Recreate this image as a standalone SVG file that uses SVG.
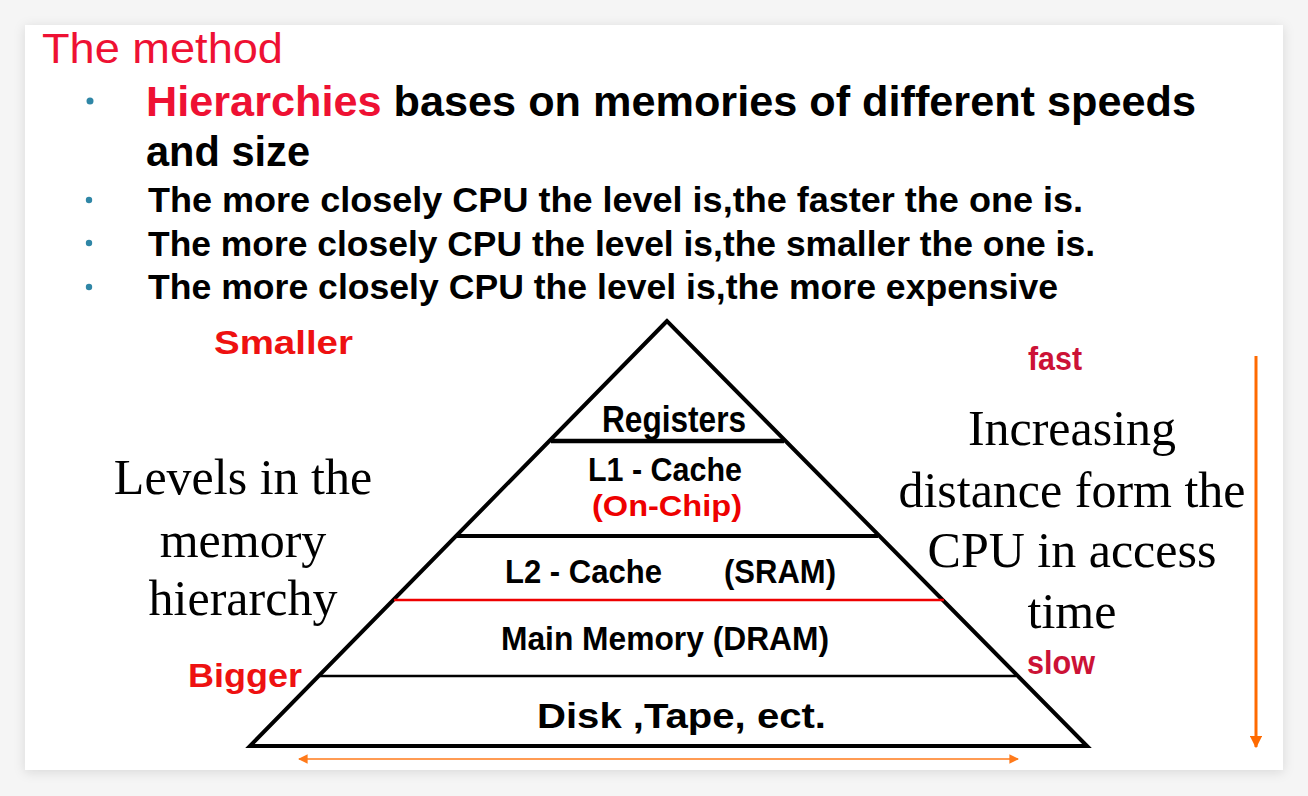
<svg xmlns="http://www.w3.org/2000/svg" width="1308" height="796" viewBox="0 0 1308 796">
  <defs>
    <filter id="shadow" x="-5%" y="-5%" width="110%" height="110%">
      <feDropShadow dx="0" dy="2" stdDeviation="6" flood-color="#000" flood-opacity="0.12"/>
    </filter>
    <marker id="arrOrange" viewBox="0 0 10 10" refX="9" refY="5" markerWidth="4.2" markerHeight="4.2" orient="auto-start-reverse" markerUnits="strokeWidth">
      <path d="M0,0 L10,5 L0,10 z" fill="#ff6a00"/>
    </marker>
    <marker id="arrOrangeThin" viewBox="0 0 10 10" refX="9" refY="5" markerWidth="7" markerHeight="6" orient="auto-start-reverse" markerUnits="strokeWidth">
      <path d="M0,0 L10,5 L0,10 z" fill="#ff7a1a"/>
    </marker>
  </defs>
  <style>
    .hand { font-family: "Comic Sans MS", "Liberation Sans", "DejaVu Sans", sans-serif; font-weight: bold; }
    .title { font-family: "Comic Sans MS", "Liberation Sans", "DejaVu Sans", sans-serif; font-size: 42px; fill: #ee1133; }
    .bul1 { font-size: 42px; fill: #000; }
    .bul2 { font-size: 35px; fill: #000; }
    .red { fill: #ee1133; }
    .dot { fill: #2f86a6; }
    .serif { font-family: "Liberation Serif", "Times New Roman", serif; font-size: 50px; fill: #000; text-anchor: middle; }
    .narrow { font-family: "Liberation Sans", Arial, sans-serif; font-weight: bold; fill: #000; }
    .speed { font-family: "Liberation Sans", Arial, sans-serif; font-weight: bold; fill: #cc1236; font-size: 34px; }
    .edge { stroke: #000; stroke-width: 4; fill: none; stroke-linejoin: miter; }
    .lvl { stroke: #000; fill: none; }
  </style>
  <rect x="0" y="0" width="1308" height="796" fill="#f5f5f5"/>
  <rect x="25" y="25" width="1258" height="745" fill="#ffffff" filter="url(#shadow)"/>

  <g id="title">
    <text class="title" x="42" y="63" textLength="241" lengthAdjust="spacingAndGlyphs">The method</text>
  </g>

  <g id="bullets">
    <circle class="dot" cx="90" cy="101" r="3.5"/>
    <text class="hand bul1" x="146" y="116" textLength="1050" lengthAdjust="spacingAndGlyphs"><tspan class="red">Hierarchies</tspan> bases on memories of different speeds</text>
    <text class="hand bul1" x="146" y="166" textLength="164" lengthAdjust="spacingAndGlyphs">and size</text>
    <circle class="dot" cx="89" cy="200" r="3.2"/>
    <text class="hand bul2" x="148" y="212" textLength="935" lengthAdjust="spacingAndGlyphs">The more closely CPU the level is,the faster the one is.</text>
    <circle class="dot" cx="89" cy="243" r="3.2"/>
    <text class="hand bul2" x="148" y="256" textLength="947" lengthAdjust="spacingAndGlyphs">The more closely CPU the level is,the smaller the one is.</text>
    <circle class="dot" cx="89" cy="287" r="3.2"/>
    <text class="hand bul2" x="148" y="299" textLength="910" lengthAdjust="spacingAndGlyphs">The more closely CPU the level is,the more  expensive</text>
  </g>

  <g id="pyramid">
    <path class="edge" d="M667,321 L250,746 L1087,746 Z"/>
    <line class="lvl" x1="551" y1="441" x2="784" y2="441" stroke-width="4.5"/>
    <line class="lvl" x1="456" y1="536" x2="878" y2="536" stroke-width="4"/>
    <line x1="394" y1="600" x2="944" y2="600" stroke="#ee0000" stroke-width="2.5"/>
    <line class="lvl" x1="320" y1="676" x2="1016" y2="676" stroke-width="2.5"/>
  </g>

  <g id="registers">
    <text class="narrow" x="602" y="432" font-size="36" textLength="144" lengthAdjust="spacingAndGlyphs">Registers</text>
  </g>
  <g id="l1cache">
    <text class="narrow" x="588" y="481" font-size="34" textLength="154" lengthAdjust="spacingAndGlyphs">L1 - Cache</text>
    <text class="hand" x="592" y="516" font-size="30" fill="#ee0000" font-weight="normal" textLength="150" lengthAdjust="spacingAndGlyphs">(On-Chip)</text>
  </g>
  <g id="l2cache">
    <text class="narrow" x="505" y="583" font-size="34" textLength="157" lengthAdjust="spacingAndGlyphs">L2 - Cache</text>
    <text class="narrow" x="724" y="583" font-size="34" textLength="112" lengthAdjust="spacingAndGlyphs">(SRAM)</text>
  </g>
  <g id="mainmemory">
    <text class="narrow" x="501" y="650" font-size="34" textLength="328" lengthAdjust="spacingAndGlyphs">Main Memory (DRAM)</text>
  </g>
  <g id="disk">
    <text class="narrow" x="537" y="728" font-size="35" textLength="289" lengthAdjust="spacingAndGlyphs">Disk ,Tape,  ect.</text>
  </g>

  <g id="size-labels">
    <text class="hand" x="214" y="354" font-size="33" fill="#ee1111" textLength="139" lengthAdjust="spacingAndGlyphs">Smaller</text>
    <text class="hand" x="188" y="687" font-size="33" fill="#ee1111" textLength="114" lengthAdjust="spacingAndGlyphs">Bigger</text>
  </g>

  <g id="speed-labels">
    <text class="speed" x="1028" y="370" textLength="54" lengthAdjust="spacingAndGlyphs">fast</text>
    <text class="speed" x="1027" y="674" textLength="68" lengthAdjust="spacingAndGlyphs">slow</text>
  </g>

  <g id="levels-label">
    <text class="serif" x="243" y="494">Levels in the</text>
    <text class="serif" x="243" y="557">memory</text>
    <text class="serif" x="243" y="615">hierarchy</text>
  </g>

  <g id="distance-label">
    <text class="serif" x="1072" y="445">Increasing</text>
    <text class="serif" x="1072" y="507">distance form the</text>
    <text class="serif" x="1072" y="567">CPU in access</text>
    <text class="serif" x="1072" y="628">time</text>
  </g>

  <g id="connectors">
    <line x1="1256" y1="356" x2="1256" y2="747" stroke="#ff6a00" stroke-width="3" marker-end="url(#arrOrange)"/>
    <line x1="299" y1="759" x2="1018" y2="759" stroke="#ff7a1a" stroke-width="1.6" marker-start="url(#arrOrangeThin)" marker-end="url(#arrOrangeThin)"/>
  </g>
</svg>
